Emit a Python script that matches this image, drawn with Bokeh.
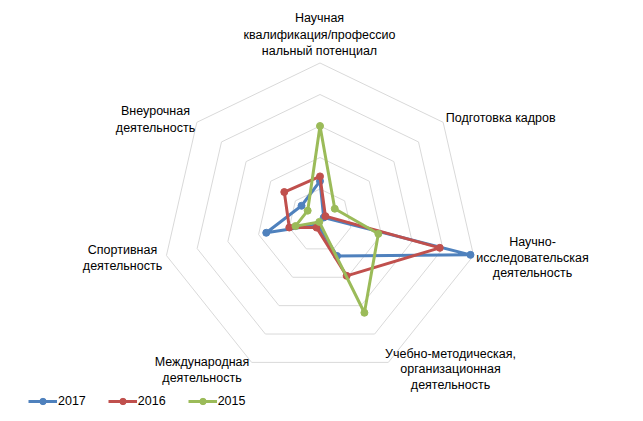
import numpy as np
from bokeh.plotting import figure
from bokeh.models import Range1d, Legend, LegendItem
from bokeh.embed import file_html
from bokeh.resources import INLINE
from bokeh.core.properties import value

# ---- data ----
categories = [
    "Научная квалификация/профессиональный потенциал",
    "Подготовка кадров",
    "Научно-исследовательская деятельность",
    "Учебно-методическая, организационная деятельность",
    "Международная деятельность",
    "Спортивная деятельность",
    "Внеурочная деятельность",
]
series_names = ["2017", "2016", "2015"]
v2017 = [1.25, 0.15, 4.9, 1.25, 0.15, 1.75, 0.75]
v2016 = [1.4, 0.22, 3.9, 1.95, 0.25, 1.0, 1.45]
v2015 = [3.0, 0.6, 1.9, 3.25, 0.05, 0.8, 0.5]
ring_ticks = [1, 2, 3, 4, 5]

# label text lines per category (as shown on chart)
label_lines = [
    ["Научная", "квалификация/профессио", "нальный потенциал"],
    ["Подготовка  кадров"],
    ["Научно-", "исследовательская", "деятельность"],
    ["Учебно-методическая,", "организационная", "деятельность"],
    ["Международная", "деятельность"],
    ["Спортивная", "деятельность"],
    ["Внеурочная", "деятельность"],
]
# label anchors (page pixels): centre x, y of each line
label_pos = [
    [(319, 17), (319, 34), (319, 50.5)],
    [(502, 117)],
    [(532, 241), (532, 257), (532, 272.5)],
    [(450, 353), (450, 368.5), (450, 384)],
    [(201.5, 361.5), (201.5, 377)],
    [(122, 249), (122, 265.5)],
    [(155, 110.5), (155, 127)],
]

colors = ["#4F81BD", "#C0504D", "#9BBB59"]
grid_color = "#D9D9D9"
FONT = "Liberation Sans"
FSIZE = "12.5px"

# ---- layout ----
W, H = 635, 413
PX = 31.5                      # pixels per unit
CX, CY = 319.5, 220.0          # centre (px from left / top)

p = figure(width=W, height=H,
           x_range=Range1d(-CX / PX, (W - CX) / PX),
           y_range=Range1d(-(H - CY) / PX, CY / PX),
           x_axis_type=None, y_axis_type=None,
           output_backend="svg", toolbar_location=None, min_border=0)
p.grid.visible = False
p.outline_line_color = None
p.background_fill_color = "white"
p.border_fill_color = "white"

n = len(categories)
theta = np.arange(n) * 2 * np.pi / n
sx, sy = np.sin(theta), np.cos(theta)

def closed(a):
    return list(a) + [a[0]]

for t in ring_ticks:
    p.line(closed(t * sx), closed(t * sy), line_color=grid_color, line_width=1)

items = []
for name, vals, col in zip(series_names, [v2017, v2016, v2015], colors):
    v = np.array(vals)
    xs, ys = v * sx, v * sy
    lr = p.line(closed(xs), closed(ys), line_color=col, line_width=3, line_join="round")
    sr = p.scatter(xs, ys, size=7, marker="circle", fill_color=col, line_color=col)
    items.append(LegendItem(label=name, renderers=[lr, sr]))

def to_data(x, y):
    return (x - CX) / PX, (CY - y) / PX

tx, ty, tt = [], [], []
for lines, poss in zip(label_lines, label_pos):
    for s, (x, y) in zip(lines, poss):
        dx, dy = to_data(x, y)
        tx.append(dx); ty.append(dy); tt.append(s)
p.text(tx, ty, text=tt, text_font=value(FONT), text_font_size=FSIZE,
       text_align="center", text_baseline="middle", text_color="#000000")

legend = Legend(items=items, orientation="horizontal", location=(28, 4),
                glyph_width=29, glyph_height=16, label_height=16,
                label_standoff=1, spacing=22, padding=0, margin=0,
                border_line_color=None, background_fill_alpha=0,
                label_text_font=FONT, label_text_font_size=FSIZE,
                label_text_color="#000000")
p.add_layout(legend, "center")

open("out.html", "w").write(file_html(p, INLINE))
